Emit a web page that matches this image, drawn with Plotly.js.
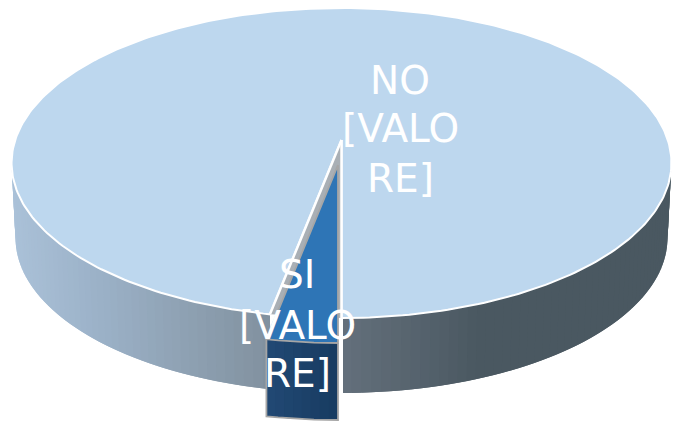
<!DOCTYPE html>
<html>
<head>
<meta charset="utf-8">
<script src="https://cdn.plot.ly/plotly-3.0.1.min.js"></script>
<style>html,body{margin:0;padding:0;background:#fff}#chart{width:692px;height:425px}</style>
</head>
<body>
<div id="chart"></div>
<script>
// Data
var categories = ['NO', 'SI'];
var values = [97, 3];
var valueLabel = ['[VALO', 'RE]'];

// Colours
var topColors = ['#BDD7EE', '#2E75B6'];
var wallStops = [[12, [170,193,216]], [100, [155,177,199]], [265, [130,146,160]], [342, [100,112,124]], [480, [74,88,97]], [672, [74,88,97]]];
var wedgeFront = [[33,72,115], [24,60,98]];

// Projection of the tilted disc (perspective); angle 0 = far edge, 180 = near edge
var cx = 341.5, cy = 140, rx = 326.3, ry = 151.6, persp = 0.1484;
var depth = 75, bottomWidth = 0.988;
function project(deg, xScale, dy, ox, oy) {
  var t = deg * Math.PI / 180, u = Math.sin(t), v = Math.cos(t);
  var w = 1 + persp * v;
  return [cx + (ox || 0) + xScale * rx * u / w, cy + (oy || 0) + (dy || 0) - ry * v / w];
}
function lerpColor(x) {
  for (var i = 0; i < wallStops.length - 1; i++) {
    var a = wallStops[i], b = wallStops[i + 1];
    if (x <= b[0]) {
      var f = Math.max(0, (x - a[0]) / (b[0] - a[0]));
      return 'rgb(' + [0, 1, 2].map(function (k) { return Math.round(a[1][k] + (b[1][k] - a[1][k]) * f); }).join(',') + ')';
    }
  }
  return 'rgb(74,88,97)';
}
function poly(pts, fill, lineColor, lineWidth) {
  return {
    type: 'scatter', mode: 'lines', x: pts.map(function (p) { return p[0]; }), y: pts.map(function (p) { return p[1]; }),
    fill: 'toself', fillcolor: fill, line: { color: lineColor || fill, width: lineWidth === undefined ? 0 : lineWidth, shape: 'linear' },
    hoverinfo: 'skip', showlegend: false
  };
}
function path(pts, color, width) {
  return {
    type: 'scatter', mode: 'lines', x: pts.map(function (p) { return p[0]; }), y: pts.map(function (p) { return p[1]; }),
    line: { color: color, width: width }, hoverinfo: 'skip', showlegend: false
  };
}

var total = values[0] + values[1];
var siStart = 180;
var siEnd = siStart + 360 * values[1] / total;
var noEnd = siStart + 360;
var traces = [];

// Side wall of the NO slice: strips overlap the next one so no seams show
var step = 1.5, wallRight = 81, wallLeft = 279;
for (var d = wallRight; d < siStart; d += step) {
  var d2 = Math.min(d + 2 * step, siStart), dm = project(d + step / 2, 1)[0];
  traces.push(poly([project(d, 1), project(d2, 1), project(d2, bottomWidth, depth), project(d, bottomWidth, depth)], lerpColor(dm)));
}
for (var e = wallLeft; e > siEnd; e -= step) {
  var e2 = Math.max(e - 2 * step, siEnd), em = project(e - step / 2, 1)[0];
  traces.push(poly([project(e, 1), project(e2, 1), project(e2, bottomWidth, depth), project(e, bottomWidth, depth)], lerpColor(em)));
}
// white seam where the wall meets the pulled-out wedge
traces.push(path([project(siStart, 1), project(siStart, bottomWidth, depth)], '#ffffff', 3));

// Top of the NO slice
var topFace = [[cx, cy]];
for (var a = siEnd; a < noEnd; a += 1) topFace.push(project(a, 1));
topFace.push(project(noEnd, 1));
topFace.push([cx, cy]);
traces.push(poly(topFace, topColors[0], '#ffffff', 2));

// Notch under the wedge
var notch = [[cx, cy], project(siEnd, 1), project(siStart, 1)];
traces.push(poly(notch, '#A9AFB5', '#A9AFB5', 0));
traces.push(path([[cx, cy], project(siEnd, 1)], '#ffffff', 2.5));
traces.push(path([[cx, cy], project(siStart, 1)], '#ffffff', 2.5));

// Pulled-out SI wedge
var ox = -3.5, oy = 25, wedgeDepth = 77, frontSteps = 8, wedgeArcSteps = 6;
for (var n = 0; n < frontSteps; n++) {
  var a1 = siEnd + (siStart - siEnd) * n / frontSteps, a2 = siEnd + (siStart - siEnd) * Math.min(n + 2, frontSteps) / frontSteps;
  var f = n / (frontSteps - 1);
  var col = 'rgb(' + [0, 1, 2].map(function (k) { return Math.round(wedgeFront[0][k] + (wedgeFront[1][k] - wedgeFront[0][k]) * f); }).join(',') + ')';
  traces.push(poly([project(a1, 1, 0, ox, oy), project(a2, 1, 0, ox, oy), project(a2, 1, wedgeDepth, ox, oy), project(a1, 1, wedgeDepth, ox, oy)], col));
}
var wedgeTop = [[cx + ox, cy + oy]];
for (var k = 0; k <= wedgeArcSteps; k++) wedgeTop.push(project(siEnd + (siStart - siEnd) * k / wedgeArcSteps, 1, 0, ox, oy));
wedgeTop.push([cx + ox, cy + oy]);
traces.push(poly(wedgeTop, topColors[1], '#A6A6A6', 1.8));
// wedge outline
var wedgeOutline = [project(siEnd, 1, 0, ox, oy)];
for (var m = 0; m <= wedgeArcSteps; m++) wedgeOutline.push(project(siEnd + (siStart - siEnd) * m / wedgeArcSteps, 1, wedgeDepth, ox, oy));
wedgeOutline.push(project(siStart, 1, 0, ox, oy));
traces.push(path(wedgeOutline, '#A6A6A6', 1.8));

// Labels, one annotation per line so that the line spacing can follow the reference
function labelLines(i, x, ys) {
  return [categories[i]].concat(valueLabel).map(function (txt, j) {
    return { x: x, y: ys[j], xref: 'x', yref: 'y', text: txt, showarrow: false, xanchor: 'center', yanchor: 'middle',
      font: { family: 'DejaVu Sans, sans-serif', size: 39, color: '#ffffff' } };
  });
}
var annotations = labelLines(0, 400, [80, 128, 178]).concat(labelLines(1, 297, [274, 325, 373]));

Plotly.newPlot('chart', traces, {
  width: 692, height: 425, margin: { l: 0, r: 0, t: 0, b: 0 },
  paper_bgcolor: '#ffffff', plot_bgcolor: '#ffffff', showlegend: false,
  xaxis: { visible: false, range: [0, 692], fixedrange: true },
  yaxis: { visible: false, range: [425, 0], fixedrange: true },
  annotations: annotations
}, { displayModeBar: false, staticPlot: true });
</script>
</body>
</html>
